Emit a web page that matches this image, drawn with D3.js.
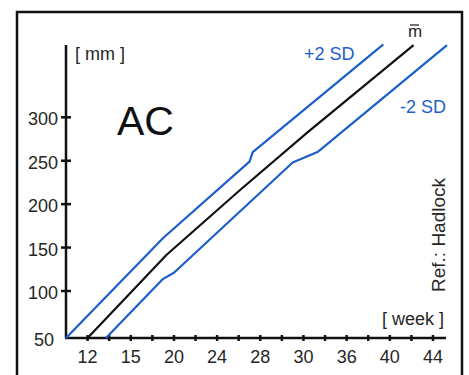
<!DOCTYPE html>
<html>
<head>
<meta charset="utf-8">
<script src="https://cdn.jsdelivr.net/npm/d3@7"></script>
<style>
  html, body { margin: 0; padding: 0; background: #fff; }
  svg text { font-family: "Liberation Sans", Arial, Helvetica, sans-serif; }
</style>
</head>
<body>
<svg id="chart" width="469" height="375"></svg>
<script>
// gestational age (weeks) / abdominal circumference (mm)
var meanWeeks = [12, 19.3, 26.1, 32.4, 42.2];
var meanValues = [50, 141.5, 216, 283, 383];

var upperWeeks = [10, 19, 27, 27.3, 39.4];
var upperValues = [50, 161, 249, 260, 384];

var lowerWeeks = [13.7, 19, 20, 31, 33.3, 45.3];
var lowerValues = [50, 114, 121, 248, 260, 383];

var xTickValues = [12, 16, 20, 24, 28, 32, 36, 40, 44];
var xTickLabels = ["12", "15", "20", "24", "28", "30", "36", "40", "44"];
var xMinorTicks = [12, 14, 16, 18, 20, 22, 24, 26, 28, 30, 32, 34, 36, 38, 40, 42, 44];
var yTickValues = [100, 150, 200, 250, 300];

var blue = "#1c5ecb";
var ink = "#262626";

var svg = d3.select("#chart");

// outer frame
svg.append("rect")
  .attr("x", 17)
  .attr("y", 12)
  .attr("width", 445)
  .attr("height", 400)
  .attr("fill", "none")
  .attr("stroke", "#111")
  .attr("stroke-width", 2.5)

var x = d3.scaleLinear().domain([10, 44]).range([66, 433]);
var y = d3.scaleLinear().domain([50, 100, 300]).range([338, 291, 117.3]);

// y axis
var yAxis = svg.append("g").attr("transform", "translate(66,0)");
yAxis.append("line")
  .attr("y1", 45).attr("y2", 338)
  .attr("stroke", "#111").attr("stroke-width", 2.5);
yAxis.selectAll(".ytick")
  .data(yTickValues)
  .enter().append("line")
  .attr("class", "ytick")
  .attr("x1", -5).attr("x2", 5)
  .attr("y1", function(d){ return y(d); })
  .attr("y2", function(d){ return y(d); })
  .attr("stroke", "#111").attr("stroke-width", 2.5);
yAxis.selectAll(".ylab")
  .data([50].concat(yTickValues))
  .enter().append("text")
  .attr("class", "ylab")
  .attr("x", function(d){ return d === 50 ? -12 : -8; })
  .attr("y", function(d){ return y(d) + 8; })
  .attr("text-anchor", "end")
  .attr("font-size", 18)
  .attr("fill", ink)
  .text(function(d){ return d; })

// x axis
var xAxis = svg.append("g").attr("transform", "translate(0,338)");
xAxis.append("line")
  .attr("x1", 65).attr("x2", 446)
  .attr("stroke", "#111").attr("stroke-width", 2.5);
xAxis.selectAll(".xtick")
  .data(xMinorTicks)
  .enter().append("line")
  .attr("class", "xtick")
  .attr("x1", function(d){ return x(d); })
  .attr("x2", function(d){ return x(d); })
  .attr("y1", -3).attr("y2", 3)
  .attr("stroke", "#111").attr("stroke-width", 2.5);
xAxis.selectAll(".xlab")
  .data(xTickValues)
  .enter().append("text")
  .attr("class", "xlab")
  .attr("x", function(d){ return x(d); })
  .attr("y", 25)
  .attr("text-anchor", "middle")
  .attr("font-size", 18)
  .attr("fill", ink)
  .text(function(d, i){ return xTickLabels[i]; })

// curves
var line = d3.line()
  .x(function(d){ return x(d[0]); })
  .y(function(d){ return y(d[1]); });

var series = [
  { weeks: upperWeeks, values: upperValues, color: blue },
  { weeks: lowerWeeks, values: lowerValues, color: blue },
  { weeks: meanWeeks, values: meanValues, color: "#111" }
];

svg.selectAll(".curve")
  .data(series)
  .enter().append("path")
  .attr("class", "curve")
  .attr("d", function(s){ return line(d3.zip(s.weeks, s.values)); })
  .attr("fill", "none")
  .attr("stroke", function(s){ return s.color; })
  .attr("stroke-width", 2.2)
  .attr("stroke-linejoin", "round")

// texts
svg.append("text").attr("x", 75).attr("y", 60)
  .attr("font-size", 18).attr("fill", ink).text("[ mm ]");
svg.append("text").attr("x", 117).attr("y", 135)
  .attr("font-size", 41).attr("fill", "#111").text("AC");
svg.append("text").attr("x", 382).attr("y", 325)
  .attr("font-size", 18).attr("fill", ink).text("[ week ]");
svg.append("text").attr("x", 304).attr("y", 60)
  .attr("font-size", 18).attr("fill", blue).text("+2 SD");
svg.append("text").attr("x", 400).attr("y", 113)
  .attr("font-size", 18).attr("fill", blue).text("-2 SD");
svg.append("text").attr("x", 408).attr("y", 37)
  .attr("font-size", 17).attr("fill", ink).text("m");
svg.append("line")
  .attr("x1", 410).attr("x2", 419)
  .attr("y1", 25).attr("y2", 25)
  .attr("stroke", ink).attr("stroke-width", 1.3);
svg.append("text")
  .attr("transform", "translate(445,292) rotate(-90)")
  .attr("font-size", 19).attr("fill", ink).text("Ref.: Hadlock");
</script>
</body>
</html>
